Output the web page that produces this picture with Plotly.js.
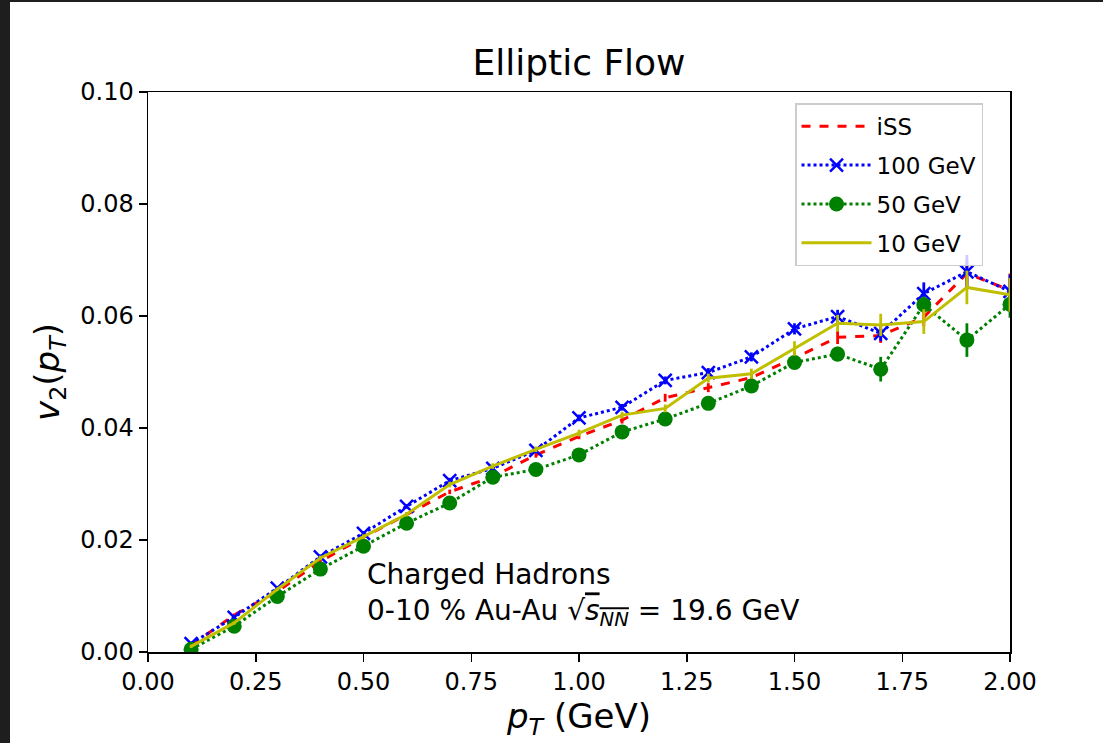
<!DOCTYPE html>
<html>
<head>
<meta charset="utf-8">
<script src="https://cdn.plot.ly/plotly-3.0.1.min.js"></script>
<style>
html,body{margin:0;padding:0;background:#1e1e1e;width:1103px;height:743px;overflow:hidden;}
#chart{position:absolute;left:10px;top:2px;width:1093px;height:741px;background:#fff;}
</style>
</head>
<body>
<div id="chart"></div>
<script>
const pT = [0.1,0.2,0.3,0.4,0.5,0.6,0.7,0.8,0.9,1.0,1.1,1.2,1.3,1.4,1.5,1.6,1.7,1.8,1.9,2.0];

const iSS     = [0.0012,0.0066,0.0108,0.0162,0.0205,0.0245,0.0286,0.0313,0.0352,0.0385,0.0414,0.0454,0.0472,0.0490,0.0525,0.0562,0.0565,0.0598,0.0676,0.0646];
const iSSErr  = [0.0003,0.0003,0.0003,0.0003,0.0004,0.0004,0.0004,0.0005,0.0005,0.0005,0.0006,0.0007,0.0008,0.0008,0.0010,0.0012,0.0013,0.0016,0.0025,0.0030];

const gev100    = [0.0015,0.0062,0.0114,0.0170,0.0212,0.0260,0.0306,0.0328,0.0360,0.0418,0.0437,0.0485,0.0499,0.0527,0.0577,0.0599,0.0569,0.0640,0.0679,0.0644];
const gev100Err = [0.0003,0.0003,0.0003,0.0004,0.0004,0.0004,0.0005,0.0005,0.0005,0.0006,0.0006,0.0007,0.0008,0.0008,0.0010,0.0012,0.0014,0.0020,0.0030,0.0030];

const gev50     = [0.0005,0.0046,0.0099,0.0148,0.0189,0.0230,0.0266,0.0312,0.0326,0.0352,0.0393,0.0416,0.0444,0.0475,0.0517,0.0532,0.0505,0.0620,0.0557,0.0621];
const gev50Err  = [0.0003,0.0003,0.0003,0.0004,0.0004,0.0004,0.0005,0.0005,0.0005,0.0006,0.0006,0.0007,0.0008,0.0008,0.0010,0.0013,0.0022,0.0015,0.0030,0.0024];

const gev10     = [0.0010,0.0052,0.0112,0.0168,0.0206,0.0246,0.0299,0.0332,0.0362,0.0391,0.0423,0.0435,0.0489,0.0497,0.0542,0.0587,0.0584,0.0590,0.0651,0.0638];
const gev10Err  = [0.0003,0.0003,0.0003,0.0004,0.0004,0.0004,0.0005,0.0005,0.0005,0.0006,0.0006,0.0007,0.0008,0.0009,0.0013,0.0015,0.0020,0.0022,0.0030,0.0030];

const FONT = 'DejaVu Sans, sans-serif';

function errs(arr, color){
  return {type:'data', array:arr, visible:true, color:color, thickness:2.8, width:0};
}

const traces = [
  {x:pT, y:iSS, name:'iSS', legendgroup:'a', mode:'lines', line:{color:'#ff0000', width:3, dash:'dash'}, error_y:errs(iSSErr,'#ff0000')},
  {x:pT, y:gev100, name:'100 GeV', legendgroup:'b', mode:'lines+markers', line:{color:'#0000ff', width:3, dash:'dot'},
   marker:{symbol:'x-thin-open', size:13, color:'#0000ff', line:{color:'#0000ff', width:2.5}}, error_y:errs(gev100Err,'#0000ff')},
  {x:pT, y:gev50, name:'50 GeV', legendgroup:'c', mode:'lines+markers', line:{color:'#008000', width:3, dash:'dot'},
   marker:{symbol:'circle', size:15, color:'#008000'}, error_y:errs(gev50Err,'#008000')},
  {x:pT, y:gev10, name:'10 GeV', legendgroup:'d', mode:'lines', line:{color:'#bfbf00', width:3}, error_y:errs(gev10Err,'#bfbf00')}
];

const layout = {
  width:1093, height:741,
  margin:{l:138, r:93, t:90, b:91},
  paper_bgcolor:'#ffffff', plot_bgcolor:'#ffffff',
  font:{family:FONT, color:'#000', size:22},
  showlegend:true,
  title:{text:'Elliptic Flow', font:{family:FONT, size:36, color:'#000'}, x:0.5, xref:'paper', xanchor:'center', y:0.918, yref:'container', yanchor:'middle'},
  xaxis:{range:[0,2], tickvals:[0,0.25,0.5,0.75,1.0,1.25,1.5,1.75,2.0], ticktext:['0.00','0.25','0.50','0.75','1.00','1.25','1.50','1.75','2.00'],
    showgrid:false, zeroline:false, showline:true, linecolor:'#000', linewidth:1.5, mirror:true,
    ticks:'outside', ticklen:8, tickwidth:1.5, tickcolor:'#000', tickfont:{size:24, family:FONT},
    title:{text:'<i>p</i><sub><i>T</i></sub> (GeV)', font:{size:34, family:FONT}, standoff:6}},
  yaxis:{range:[0,0.1], tickvals:[0,0.02,0.04,0.06,0.08,0.1], ticktext:['0.00','0.02','0.04','0.06','0.08','0.10'],
    showgrid:false, zeroline:false, showline:true, linecolor:'#000', linewidth:1.5, mirror:true,
    ticks:'outside', ticklen:8, tickwidth:1.5, tickcolor:'#000', tickfont:{size:24, family:FONT},
    title:{text:'<i>v</i><sub>2</sub>(<i>p</i><sub><i>T</i></sub>)', font:{size:34, family:FONT}, standoff:10}},
  legend:{x:0.7506, y:0.98, xanchor:'left', yanchor:'top', bgcolor:'rgba(255,255,255,0.8)', bordercolor:'#cccccc', borderwidth:1.5,
    font:{size:23, family:FONT}, tracegroupgap:6, itemwidth:70},
  annotations:[
    {xref:'x', yref:'y', x:0.503, y:0.0171, xanchor:'left', yanchor:'top', align:'left', showarrow:false,
     font:{size:28, family:FONT, color:'#000'},
     text:'Charged Hadrons<br>0-10 % Au-Au √<span style="text-decoration:overline"><i>s</i><sub><i>NN</i></sub></span> = 19.6 GeV'}
  ]
};

Plotly.newPlot('chart', traces, layout, {displayModeBar:false, staticPlot:true});
</script>
</body>
</html>
